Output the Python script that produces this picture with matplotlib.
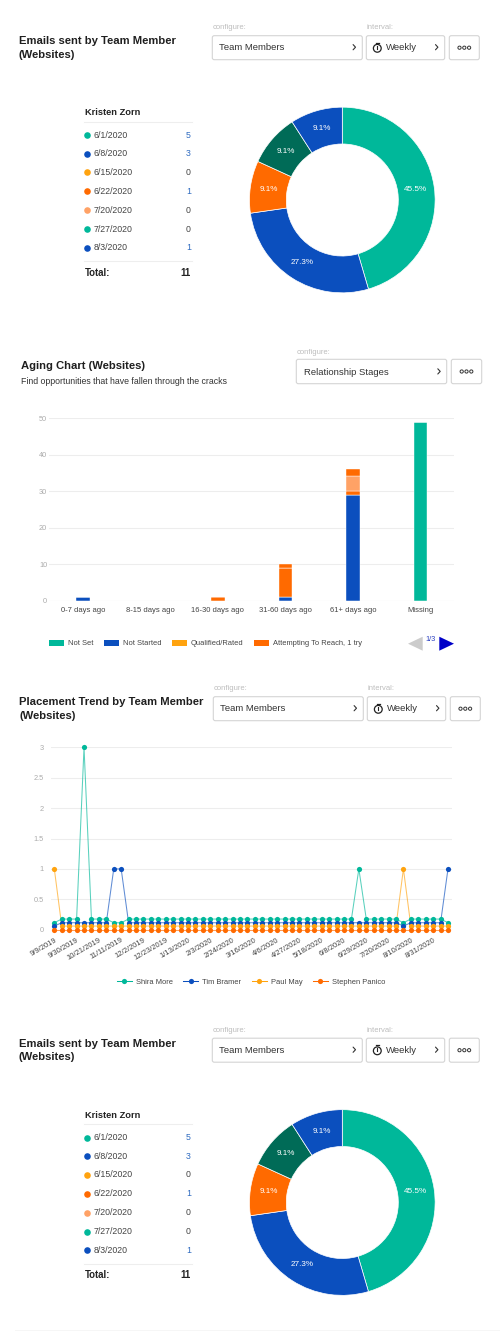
import matplotlib
matplotlib.use("Agg")
import matplotlib.pyplot as plt
from matplotlib.patches import FancyBboxPatch, Rectangle, Polygon, Circle
from matplotlib.lines import Line2D

plt.rcParams['font.family'] = ['Liberation Sans', 'DejaVu Sans']

W, H = 500, 1340
PT = 0.72  # px -> pt at dpi 100

TEAL = '#00B89A'
BLUE = '#0B4FBE'
YELLOW = '#FFA30F'
ORANGE = '#FF6A00'
LIGHT = '#FFA266'
DKGREEN = '#006B57'
GRID = '#EDEDED'
TITLE_PX = 11.2

# ---- data ----
donut_values = [5, 3, 1, 1, 1]
donut_colors = [TEAL, BLUE, ORANGE, DKGREEN, BLUE]
table_dates = ['6/1/2020', '6/8/2020', '6/15/2020', '6/22/2020', '7/20/2020', '7/27/2020', '8/3/2020']
table_values = [5, 3, 0, 1, 0, 0, 1]
table_colors = [TEAL, BLUE, YELLOW, ORANGE, LIGHT, TEAL, BLUE]
table_total = 11

aging_cats = ['0-7 days ago', '8-15 days ago', '16-30 days ago', '31-60 days ago', '61+ days ago', 'Missing']
aging_not_set = [0, 0, 0, 0, 0, 49]
aging_not_started = [1, 0, 0, 1, 29, 0]
aging_qualified = [0, 0, 0, 0, 0, 0]
aging_attempt1 = [0, 0, 1, 8, 1, 0]
aging_attempt2 = [0, 0, 0, 0, 4, 0]
aging_attempt3 = [0, 0, 0, 1, 2, 0]

trend_labels = ['9/9/2019', '9/30/2019', '10/21/2019', '11/11/2019', '12/2/2019', '12/23/2019',
                '1/13/2020', '2/3/2020', '2/24/2020', '3/16/2020', '4/6/2020', '4/27/2020',
                '5/18/2020', '6/8/2020', '6/29/2020', '7/20/2020', '8/10/2020', '8/31/2020']
# values as they are displayed: zero points of the series sit on small offsets in the source chart
shira = [.115, .175, .175, .175, 3, .175, .175, .175, .115, .115, .175, .175, .175, .175, .175, .175, .175, .175,
         .175, .175, .175, .175, .175, .175, .175, .175, .175, .175, .175, .175, .175, .175, .175, .175, .175, .175,
         .175, .175, .175, .175, .175, 1, .175, .175, .175, .175, .175, .115, .175, .175, .175, .175, .175, .115]
tim = [.06, .115, .115, .115, .115, .115, .115, .115, 1, 1, .115, .115, .115, .115, .115, .115, .115, .115,
       .115, .115, .115, .115, .115, .115, .115, .115, .115, .115, .115, .115, .115, .115, .115, .115, .115, .115,
       .115, .115, .115, .115, .115, .115, .115, .115, .115, .115, .115, .06, .115, .115, .115, .115, .115, 1]
paul = [1, .06, .06, .06, .06, .06, .06, .06, .06, .06, .06, .06, .06, .06, .06, .06, .06, .06,
        .06, .06, .06, .06, .06, .06, .06, .06, .06, .06, .06, .06, .06, .06, .06, .06, .06, .06,
        .06, .06, .06, .06, .06, .06, .06, .06, .06, .06, .06, 1, .06, .06, .06, .06, .06, .06]
stephen = [0, 0, 0, 0, 0, 0, 0, 0, 0, 0, 0, 0, 0, 0, 0, 0, 0, 0,
           0, 0, 0, 0, 0, 0, 0, 0, 0, 0, 0, 0, 0, 0, 0, 0, 0, 0,
           0, 0, 0, 0, 0, 0, 0, 0, 0, 0, 0, 0, 0, 0, 0, 0, 0, 0]

# ---- helpers ----
fig = plt.figure(figsize=(W / 100, H / 100), dpi=100, facecolor='white')


def axes_px(x0, y0, x1, y1, **kw):
    return fig.add_axes([x0 / W, 1 - y1 / H, (x1 - x0) / W, (y1 - y0) / H], **kw)


ui = axes_px(0, 0, W, H, zorder=0)
ui.set_xlim(0, W)
ui.set_ylim(H, 0)
ui.axis('off')


def txt(x, y, s, size, color='#333333', weight='normal', ha='left', va='center', ax=ui):
    return ax.text(x, y, s, fontsize=size * PT, color=color, fontweight=weight, ha=ha, va=va)


def box(x0, y0, x1, y1):
    ui.add_patch(FancyBboxPatch((x0 + 2, y0 + 2), x1 - x0 - 4, y1 - y0 - 4,
                                boxstyle='round,pad=2,rounding_size=2', fc='white', ec='#D4D4D4', lw=0.8))


def chevron(x, y):
    ui.plot([x - 1.2, x + 1.2, x - 1.2], [y - 2.6, y, y + 2.6], color='#333333', lw=0.8, solid_capstyle='round')


def dots_button(x0, y0, x1, y1):
    box(x0, y0, x1, y1)
    cx, cy = (x0 + x1) / 2, (y0 + y1) / 2
    for dx in (-4.8, 0, 4.8):
        ui.add_patch(Circle((cx + dx, cy), 1.6, fc='white', ec='#333333', lw=0.7))


def timer(x, y):
    ui.add_patch(Circle((x, y), 3.9, fc='none', ec='#222222', lw=0.9))
    ui.plot([x, x], [y - 2.6, y + 0.2], color='#222222', lw=0.8)
    ui.plot([x - 1.6, x + 1.6], [y - 5.6, y - 5.6], color='#222222', lw=0.9)


def controls(dx, dy, label):
    txt(212.3 + dx, 27.7 + dy, 'configure:', 7.6, '#BDBDBD')
    txt(366.7 + dx, 27.7 + dy, 'interval:', 7.6, '#BDBDBD')
    box(212.3 + dx, 35.7 + dy, 362.3 + dx, 59.7 + dy)
    box(366.3 + dx, 35.7 + dy, 444.7 + dx, 59.7 + dy)
    dots_button(449.3 + dx, 35.7 + dy, 479.3 + dx, 59.7 + dy)
    txt(219.3 + dx, 47.9 + dy, label, 9.5)
    chevron(354.3 + dx, 47.2 + dy)
    timer(377.3 + dx, 48.3 + dy)
    txt(386 + dx, 47.9 + dy, 'Weekly', 9.5)
    chevron(436.7 + dx, 47.2 + dy)


def donut_block(dy):
    cx, cy, r = 342.3, 200 + dy, 93.3
    ax = axes_px(cx - r, cy - r, cx + r, cy + r, zorder=2)
    ax.pie(donut_values, colors=donut_colors, startangle=90, counterclock=False, radius=1,
           wedgeprops=dict(width=1 - 56.3 / 93.3, edgecolor='white', linewidth=0.5),
           autopct='%.1f%%', pctdistance=0.8,
           textprops=dict(color='white', fontsize=8.2 * PT))
    ax.set_xlim(-1.005, 1.005)
    ax.set_ylim(-1.005, 1.005)
    # table
    txt(84.7, 112.9 + dy, 'Kristen Zorn', 9.3, '#222222', 'bold')
    ui.plot([84, 191.7], [121.7 + dy] * 2, color='#EEEEEE', lw=0.8)
    rows = [135, 153.7, 172.3, 191.3, 210.3, 229, 247.7]
    for y, d, v, c in zip(rows, table_dates, table_values, table_colors):
        ui.scatter([87.4], [y + dy], s=(6.6 * PT) ** 2, color=c, linewidths=0, snap=False)
        txt(93.7, y + dy, d, 8.8, '#444444')
        txt(191, y + dy, str(v), 8.8, '#2F6BC0' if v else '#444444', ha='right')
    ui.plot([84, 191.7], [261.3 + dy] * 2, color='#EEEEEE', lw=0.8)
    txt(84.7, 272.5 + dy, 'Total:', 9.6, '#222222', 'bold')
    txt(190.3, 272.5 + dy, str(table_total), 9.6, '#222222', 'bold', ha='right')


def style_axes(ax):
    for s in ax.spines.values():
        s.set_visible(False)
    ax.set_facecolor('none')
    ax.grid(axis='y', color=GRID, lw=0.8)
    ax.set_axisbelow(True)
    ax.tick_params(axis='both', length=0)


# ---- block 1: donut ----
txt(18.7, 41.5, 'Emails sent by Team Member', TITLE_PX, '#1F1F1F', 'bold')
txt(18.7, 54.9, '(Websites)', TITLE_PX, '#1F1F1F', 'bold')
controls(0, 0, 'Team Members')
donut_block(0)

# ---- block 2: aging ----
txt(20.7, 365.9, 'Aging Chart (Websites)', TITLE_PX, '#1F1F1F', 'bold')
txt(20.7, 381, 'Find opportunities that have fallen through the cracks', 8.8, '#333333')
txt(296.7, 352, 'configure:', 7.6, '#BDBDBD')
box(296.3, 359.3, 446.7, 383.7)
dots_button(451.3, 359.3, 481.7, 383.7)
txt(303.7, 372.2, 'Relationship Stages', 9.5)
chevron(439, 371.4)

ax2 = axes_px(49.3, 418, 454, 600.7, zorder=2)
style_axes(ax2)
x2 = list(range(len(aging_cats)))
stack = [0] * len(x2)
series2 = [('Not Set', aging_not_set, TEAL), ('Not Started', aging_not_started, BLUE),
           ('Qualified/Rated', aging_qualified, YELLOW), ('Attempting To Reach, 1 try', aging_attempt1, ORANGE),
           ('_attempt2', aging_attempt2, LIGHT), ('_attempt3', aging_attempt3, ORANGE)]
handles = []
for name, vals, col in series2:
    ax2.bar(x2, vals, 0.2, bottom=stack, color=col, edgecolor='white', linewidth=0.3, label=name)
    stack = [s + v for s, v in zip(stack, vals)]
    if not name.startswith('_'):
        handles.append(Rectangle((0, 0), 1, 1, fc=col, ec='none', label=name))
ax2.set_xlim(-0.5, 5.5)
ax2.set_ylim(0, 50)
ax2.set_yticks([0, 10, 20, 30, 40, 50])
ax2.set_xticks(x2, aging_cats)
ax2.tick_params(axis='y', labelsize=7.4 * PT, labelcolor='#ABABAB', pad=1.5)
ax2.tick_params(axis='x', labelsize=7.7 * PT, labelcolor='#444444', pad=4.5)
ax2.axhline(0, color=GRID, lw=0.8, zorder=1)
leg2 = ax2.legend(handles=handles, loc='center left', frameon=False, ncol=4, fontsize=7.45 * PT,
                  handlelength=2.0, handleheight=1.0, handletextpad=0.5, columnspacing=1.45,
                  borderpad=0, borderaxespad=0,
                  bbox_to_anchor=(49.3 / W, 1 - 643.5 / H), bbox_transform=fig.transFigure)
for t in leg2.get_texts():
    t.set_color('#444444')
ui.add_patch(Polygon([[422.7, 636.7], [422.7, 650.7], [408, 643.7]], fc='#CCCCCC', ec='none'))
ui.add_patch(Polygon([[439.3, 636.7], [439.3, 650.7], [454, 643.7]], fc='#0000C8', ec='none'))
txt(431, 639.7, '1/3', 7.4, '#2A3FC0', ha='center')

# ---- block 3: trend ----
txt(19.3, 702.2, 'Placement Trend by Team Member', TITLE_PX, '#1F1F1F', 'bold')
txt(19.3, 715.6, '(Websites)', TITLE_PX, '#1F1F1F', 'bold')
controls(1, 661, 'Team Members')

ax3 = axes_px(50.6, 747.3, 451.7, 929.7, zorder=2)
style_axes(ax3)
x3 = list(range(len(shira)))
for name, vals, col in [('Shira More', shira, TEAL), ('Tim Bramer', tim, BLUE),
                        ('Paul May', paul, YELLOW), ('Stephen Panico', stephen, ORANGE)]:
    ax3.plot(x3, vals, color=col, lw=0.75, alpha=0.65, zorder=3, clip_on=False)
    ax3.plot(x3, vals, ls='none', marker='o', ms=5.2 * PT, mfc=col, mec=col, mew=0, zorder=4, clip_on=False)
ax3.set_xlim(-0.5, 53.5)
ax3.set_ylim(0, 3)
ax3.set_yticks([0, .5, 1, 1.5, 2, 2.5, 3], ['0', '0.5', '1', '1.5', '2', '2.5', '3'])
ax3.set_xticks(x3[::3], trend_labels, rotation=30, ha='right', rotation_mode='anchor')
ax3.tick_params(axis='y', labelsize=7.4 * PT, labelcolor='#ABABAB', pad=5)
ax3.tick_params(axis='x', labelsize=7.7 * PT, labelcolor='#444444', pad=5)
leg_handles = [Line2D([], [], color=c, lw=0.75, marker='o', ms=5.2 * PT, mew=0, label=n)
               for n, c in [('Shira More', TEAL), ('Tim Bramer', BLUE), ('Paul May', YELLOW), ('Stephen Panico', ORANGE)]]
leg3 = ax3.legend(handles=leg_handles, loc='center', frameon=False, ncol=4, fontsize=7.45 * PT,
                  handlelength=2.0, handletextpad=0.5, columnspacing=1.45, borderpad=0, borderaxespad=0,
                  bbox_to_anchor=(251 / W, 1 - 982 / H), bbox_transform=fig.transFigure)
for t in leg3.get_texts():
    t.set_color('#444444')

# ---- block 4: donut again ----
D = 1002.5
txt(18.7, 41.5 + D, 'Emails sent by Team Member', TITLE_PX, '#1F1F1F', 'bold')
txt(18.7, 54.9 + D, '(Websites)', TITLE_PX, '#1F1F1F', 'bold')
controls(0, D, 'Team Members')
donut_block(D)
ui.plot([15, 500], [1330, 1330], color='#F6F6F6', lw=0.7)

fig.savefig('out.png', dpi=100)
